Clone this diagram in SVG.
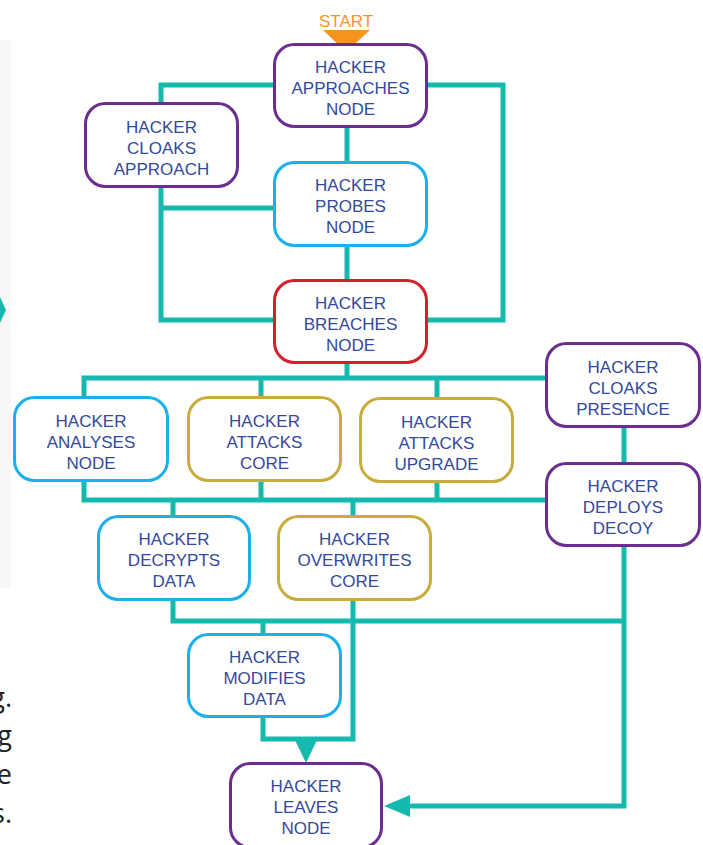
<svg xmlns="http://www.w3.org/2000/svg" width="703" height="845" viewBox="0 0 703 845">
<style>
.n{fill:#fff;stroke-width:3}
.p{stroke:#6b2d8f}.c{stroke:#1bb0ec}.r{stroke:#d4202c}.o{stroke:#c8ac3c}
.t{font-family:"Liberation Sans",Arial,sans-serif;font-size:17px;fill:#34499a;text-anchor:middle}
.w{fill:none;stroke:#16b9ad;stroke-width:5;stroke-linejoin:miter;stroke-linecap:butt}
.h{fill:#16b9ad}
.f{font-family:"Open Sans","Noto Sans",sans-serif;font-size:27px;fill:#222;text-anchor:end}
</style>
<rect x="0" y="40" width="11" height="548" fill="#f7f7f7"/>
<polygon points="0,297 6,310 0,323" fill="#16b9ad"/>
<text class="f" x="12" y="707">g.</text>
<text class="f" x="12" y="745">g</text>
<text class="f" x="12" y="784">e</text>
<text class="f" x="12" y="823">s.</text>
<g id="connectors">
<path class="w" d="M273 85H161V102"/>
<path class="w" d="M428 85H503V320H428"/>
<path class="w" d="M161 188V320H273"/>
<path class="w" d="M161 208H273"/>
<path class="w" d="M347 128V161"/>
<path class="w" d="M347 247V279"/>
<path class="w" d="M347 364V378"/>
<path class="w" d="M84 396V378H545"/>
<path class="w" d="M261 378V396"/>
<path class="w" d="M437 378V397"/>
<path class="w" d="M84 482V500H545"/>
<path class="w" d="M261 482V500"/>
<path class="w" d="M437 483V500"/>
<path class="w" d="M173 500V515"/>
<path class="w" d="M353 500V515"/>
<path class="w" d="M624 428V462"/>
<path class="w" d="M624 547V806H408"/>
<polygon class="h" points="384,806 410,795 410,817"/>
<path class="w" d="M173 601V621H624"/>
<path class="w" d="M263 621V633"/>
<path class="w" d="M353 601V739H263V718"/>
<polygon class="h" points="294,738 318,738 306,763"/>
</g>
<g id="start">
<text x="346" y="27" font-family="Liberation Sans, Arial, sans-serif" font-size="17" fill="#f7941d" text-anchor="middle">START</text>
<polygon points="323,30 370,30 346,52" fill="#f7941d"/>
</g>
<g id="approaches">
<rect class="n p" x="274.5" y="44.5" width="152" height="82" rx="20"/>
<text class="t" x="350.5" y="73">HACKER</text><text class="t" x="350.5" y="94">APPROACHES</text><text class="t" x="350.5" y="115">NODE</text>
</g>
<g id="cloaks-approach">
<rect class="n p" x="85.5" y="103.5" width="152" height="83" rx="20"/>
<text class="t" x="161.5" y="133">HACKER</text><text class="t" x="161.5" y="154">CLOAKS</text><text class="t" x="161.5" y="175">APPROACH</text>
</g>
<g id="probes">
<rect class="n c" x="274.5" y="162.5" width="152" height="83" rx="20"/>
<text class="t" x="350.5" y="191">HACKER</text><text class="t" x="350.5" y="212">PROBES</text><text class="t" x="350.5" y="233">NODE</text>
</g>
<g id="breaches">
<rect class="n r" x="274.5" y="280.5" width="152" height="82" rx="20"/>
<text class="t" x="350.5" y="309">HACKER</text><text class="t" x="350.5" y="330">BREACHES</text><text class="t" x="350.5" y="351">NODE</text>
</g>
<g id="analyses">
<rect class="n c" x="14.5" y="397.5" width="153" height="83" rx="20"/>
<text class="t" x="91" y="427">HACKER</text><text class="t" x="91" y="448">ANALYSES</text><text class="t" x="91" y="469">NODE</text>
</g>
<g id="attacks-core">
<rect class="n o" x="188.5" y="397.5" width="152" height="83" rx="20"/>
<text class="t" x="264.5" y="427">HACKER</text><text class="t" x="264.5" y="448">ATTACKS</text><text class="t" x="264.5" y="469">CORE</text>
</g>
<g id="attacks-upgrade">
<rect class="n o" x="360.5" y="398.5" width="152" height="83" rx="20"/>
<text class="t" x="436.5" y="428">HACKER</text><text class="t" x="436.5" y="449">ATTACKS</text><text class="t" x="436.5" y="470">UPGRADE</text>
</g>
<g id="cloaks-presence">
<rect class="n p" x="546.5" y="343.5" width="153" height="83" rx="20"/>
<text class="t" x="623" y="373">HACKER</text><text class="t" x="623" y="394">CLOAKS</text><text class="t" x="623" y="415">PRESENCE</text>
</g>
<g id="deploys-decoy">
<rect class="n p" x="546.5" y="463.5" width="153" height="82" rx="20"/>
<text class="t" x="623" y="492">HACKER</text><text class="t" x="623" y="513">DEPLOYS</text><text class="t" x="623" y="534">DECOY</text>
</g>
<g id="decrypts">
<rect class="n c" x="98.5" y="516.5" width="151" height="83" rx="20"/>
<text class="t" x="174" y="545">HACKER</text><text class="t" x="174" y="566">DECRYPTS</text><text class="t" x="174" y="587">DATA</text>
</g>
<g id="overwrites">
<rect class="n o" x="278.5" y="516.5" width="152" height="83" rx="20"/>
<text class="t" x="354.5" y="545">HACKER</text><text class="t" x="354.5" y="566">OVERWRITES</text><text class="t" x="354.5" y="587">CORE</text>
</g>
<g id="modifies">
<rect class="n c" x="188.5" y="634.5" width="152" height="82" rx="20"/>
<text class="t" x="264.5" y="663">HACKER</text><text class="t" x="264.5" y="684">MODIFIES</text><text class="t" x="264.5" y="705">DATA</text>
</g>
<g id="leaves">
<rect class="n p" x="230.5" y="763.5" width="151" height="84" rx="20"/>
<text class="t" x="306" y="792">HACKER</text><text class="t" x="306" y="813">LEAVES</text><text class="t" x="306" y="834">NODE</text>
</g>
</svg>
